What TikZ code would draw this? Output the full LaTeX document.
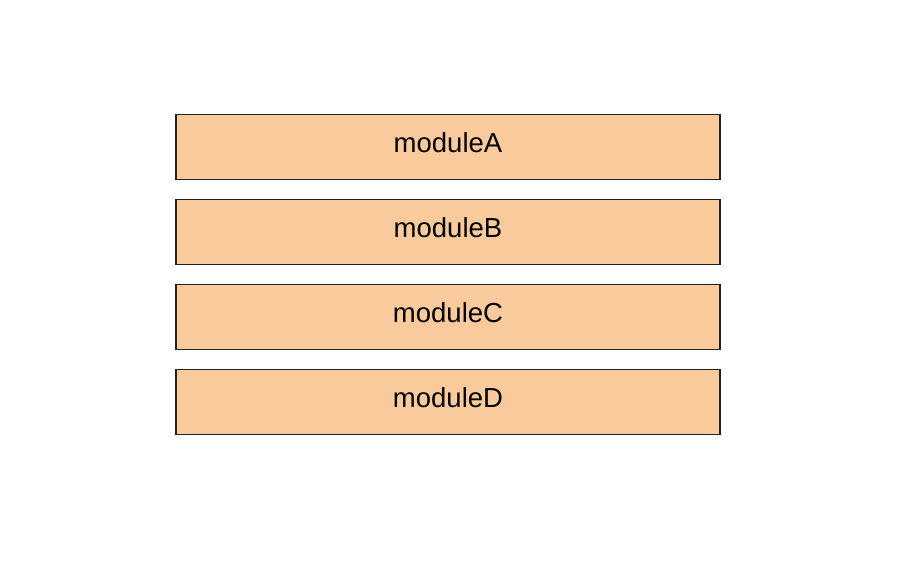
\documentclass[tikz,border=0pt]{standalone}
\usepackage{fontspec}
\setmainfont{Liberation Sans}
\usetikzlibrary{positioning}

\definecolor{modfill}{HTML}{F8CA9C}
\definecolor{modline}{HTML}{222222}

\begin{document}
\begin{tikzpicture}[x=1pt,y=1pt,
  module/.style={draw=modline, line width=1.3pt, fill=modfill,
    minimum width=544pt, minimum height=65pt, inner sep=0pt,
    text height=20pt, text depth=8pt,
    font=\fontsize{27.5}{30}\selectfont},
  node distance=18.7pt]
\useasboundingbox (0,0) rectangle (897,572);
\node [module] (modA) at (448,425) {moduleA};
\node [module, below=of modA] (modB) {moduleB};
\node [module, below=of modB] (modC) {moduleC};
\node [module, below=of modC] (modD) {moduleD};
\end{tikzpicture}
\end{document}
